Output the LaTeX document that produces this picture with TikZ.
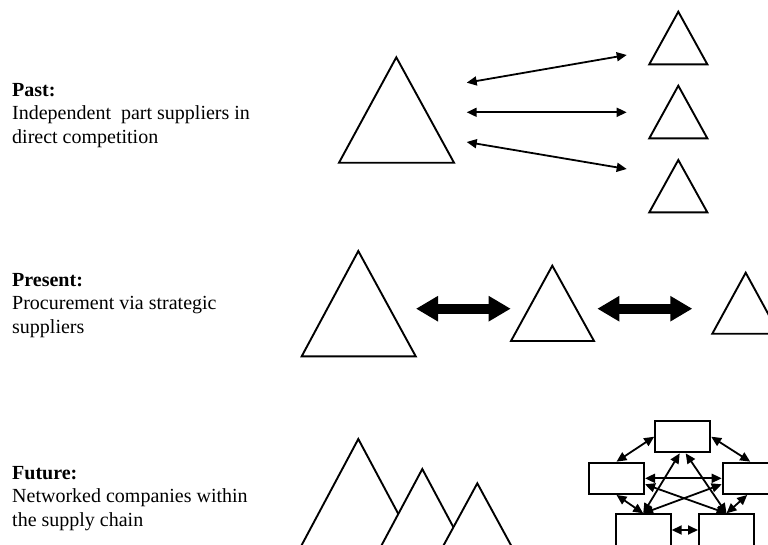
\documentclass[tikz,border=0pt]{standalone}
\usepackage{fontspec}
\setmainfont{Liberation Serif}
\usetikzlibrary{arrows.meta}
\begin{document}
\begin{tikzpicture}[x=1pt,y=-1pt,
  tri/.style={draw, line width=1.9pt, line join=miter, fill=white},
  thinarrow/.style={line width=1.8pt, {Triangle[length=10pt,width=9pt]}-{Triangle[length=10pt,width=9pt]}},
  fatarrow/.style={line width=10pt, {Triangle[length=22pt,width=24pt]}-{Triangle[length=22pt,width=24pt]}},
  firm/.style={draw, line width=2pt, fill=white, minimum width=55pt, minimum height=31.3pt, inner sep=0pt},
  txt/.style={anchor=base west, inner sep=0pt, font=\fontsize{20}{23}\selectfont}]
\useasboundingbox (0,0) rectangle (768,544);

% ---------- texts ----------
\node[txt] (past1) at (12,96) {\textbf{Past:}};
\node[txt] (past2) at (12,119.5) {Independent\ \ part suppliers in};
\node[txt] (past3) at (12,143) {direct competition};
\node[txt] (pres1) at (12,286) {\textbf{Present:}};
\node[txt] (pres2) at (12,309.5) {Procurement via strategic};
\node[txt] (pres3) at (12,333) {suppliers};
\node[txt] (fut1) at (12,479) {\textbf{Future:}};
\node[txt] (fut2) at (12,502.5) {Networked companies within};
\node[txt] (fut3) at (12,526) {the supply chain};

% ---------- past ----------
\draw[tri] (396.3,57.3) -- (454,162.7) -- (339,162.7) -- cycle;
\draw[tri] (678.3,11.7) -- (707.3,64.3) -- (649.3,64.3) -- cycle;
\draw[tri] (678.3,85.7) -- (707.3,138.3) -- (649.3,138.3) -- cycle;
\draw[tri] (678.3,160) -- (707.3,212.3) -- (649.3,212.3) -- cycle;
\coordinate (pa1l) at (466.7,82.7);  \coordinate (pa1r) at (626.7,55);
\coordinate (pa2l) at (466.7,112.3); \coordinate (pa2r) at (626.7,112.3);
\coordinate (pa3l) at (466.7,142);   \coordinate (pa3r) at (626.7,169);
\draw[thinarrow] (pa1l) -- (pa1r);
\draw[thinarrow] (pa2l) -- (pa2r);
\draw[thinarrow] (pa3l) -- (pa3r);

% ---------- present ----------
\draw[tri] (358.3,251) -- (415.7,356.3) -- (301.7,356.3) -- cycle;
\draw[tri] (552.3,265.7) -- (594,341) -- (511,341) -- cycle;
\draw[tri] (745.7,272.7) -- (779,333.7) -- (712.3,333.7) -- cycle;
\coordinate (pb1l) at (416,308.7);   \coordinate (pb1r) at (510.7,308.7);
\coordinate (pb2l) at (597.3,308.7); \coordinate (pb2r) at (692.3,308.7);
\draw[fatarrow] (pb1l) -- (pb1r);
\draw[fatarrow] (pb2l) -- (pb2r);

% ---------- future ----------
\draw[tri] (358.3,439) -- (416.5,548) -- (300.1,548) -- cycle;
\draw[tri] (422.3,469) -- (464.5,548) -- (380.1,548) -- cycle;
\draw[tri] (477.3,483.3) -- (512.5,548) -- (442.1,548) -- cycle;

\node[firm] (T)  at (682.7,436.7) {};
\node[firm] (L)  at (616.5,478.3) {};
\node[firm] (R)  at (750.2,478.3) {};
\node[firm] (BL) at (643.2,530) {};
\node[firm] (BR) at (726.5,530) {};

\draw[thinarrow] (T.west) -- (L.north);
\draw[thinarrow] (T.east) -- (R.north);
\draw[thinarrow] (L.east) -- (R.west);
\draw[thinarrow] ([yshift=-6pt]L.east) -- (BR.north);
\draw[thinarrow] ([yshift=-6pt]R.west) -- (BL.north);
\draw[thinarrow] ([xshift=-3pt]T.south) -- (BL.north);
\draw[thinarrow] ([xshift=3pt]T.south) -- (BR.north);
\draw[thinarrow] (L.south) -- (BL.north);
\draw[thinarrow] ([xshift=-3pt]R.south) -- (BR.north);
\draw[thinarrow] (BL.east) -- (BR.west);
\end{tikzpicture}
\end{document}
